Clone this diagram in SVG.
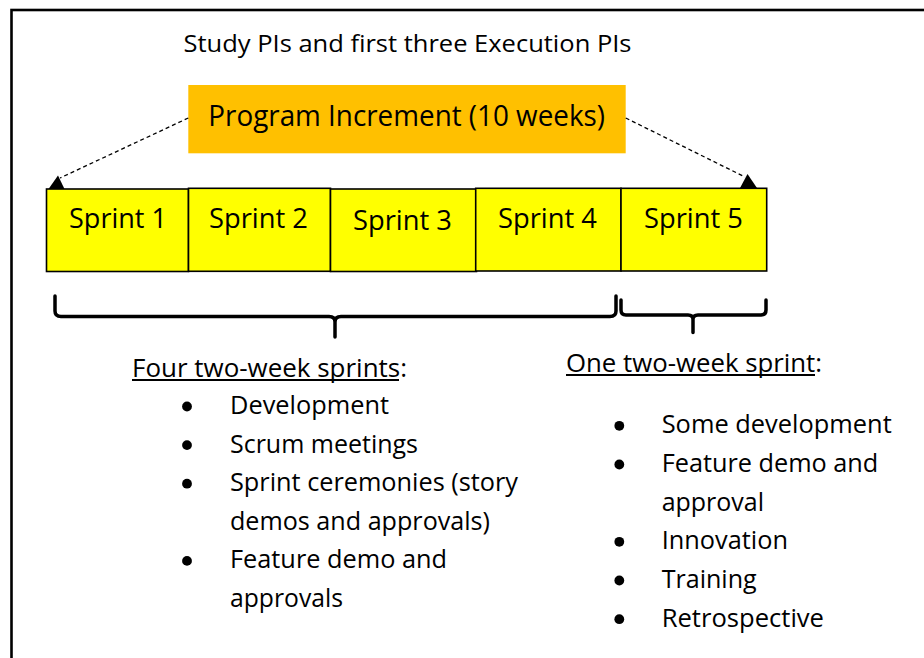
<svg xmlns="http://www.w3.org/2000/svg" width="924" height="658" viewBox="0 0 924 658">
  <style>
    text { font-family: "Open Sans", "Liberation Sans", sans-serif; fill: #000; }
    .title { font-size: 24px; }
    .pi { font-size: 29px; }
    .sprint rect { fill: #FFFF00; stroke: #000; stroke-width: 1.6; }
    .sprint text { font-size: 26.5px; }
    .body { font-size: 25px; }
    .brace { fill: none; stroke: #000; stroke-width: 3.5; stroke-linecap: round; stroke-linejoin: round; }
    .dash { fill: none; stroke: #000; stroke-width: 1.3; stroke-dasharray: 4 3; }
    .bullet { fill: #000; }
    .ul { stroke: #000; stroke-width: 1.8; }
  </style>

  <!-- outer frame (runs past the right and bottom edges) -->
  <rect x="11.5" y="10" width="930" height="670" fill="#fff" stroke="#000" stroke-width="2.6"/>

  <g id="title">
    <text class="title" x="183.5" y="52.3" textLength="448" lengthAdjust="spacingAndGlyphs">Study PIs and first three Execution PIs</text>
  </g>

  <g id="program-increment">
    <rect x="188.3" y="85" width="437.4" height="68.3" fill="#FFC000"/>
    <text class="pi" x="208.3" y="126" textLength="396.7" lengthAdjust="spacingAndGlyphs">Program Increment (10 weeks)</text>
  </g>

  <!-- dashed connectors from the PI box to both ends of the sprint row -->
  <g id="connectors">
    <line class="dash" x1="188.3" y1="118" x2="60" y2="178"/>
    <polygon points="58,175.5 48.5,189 64.5,189" fill="#000"/>
    <line class="dash" x1="625.7" y1="118" x2="745" y2="177"/>
    <polygon points="747.5,174 740,188 757,188" fill="#000"/>
  </g>

  <g id="sprint-1" class="sprint">
    <rect x="46.5" y="189" width="142" height="82.5"/>
    <text x="69" y="228" textLength="98" lengthAdjust="spacingAndGlyphs">Sprint 1</text>
  </g>
  <g id="sprint-2" class="sprint">
    <rect x="188.5" y="188.3" width="142" height="83"/>
    <text x="209" y="228" textLength="99" lengthAdjust="spacingAndGlyphs">Sprint 2</text>
  </g>
  <g id="sprint-3" class="sprint">
    <rect x="330.5" y="189" width="146" height="82.5"/>
    <text x="353" y="230" textLength="99" lengthAdjust="spacingAndGlyphs">Sprint 3</text>
  </g>
  <g id="sprint-4" class="sprint">
    <rect x="475.7" y="188.3" width="145.3" height="82.7"/>
    <text x="498" y="227.7" textLength="99" lengthAdjust="spacingAndGlyphs">Sprint 4</text>
  </g>
  <g id="sprint-5" class="sprint">
    <rect x="621" y="188.3" width="145.7" height="82.7"/>
    <text x="644" y="228" textLength="99" lengthAdjust="spacingAndGlyphs">Sprint 5</text>
  </g>

  <!-- braces grouping sprints 1-4 and sprint 5 -->
  <g id="brace-four">
    <path class="brace" d="M55,296 V311 Q55,316.5 61,316.5 H329 Q335,316.5 335,322 V337 M335,322 Q335,316.5 341,316.5 H610 Q616,316.5 616,311 V296"/>
  </g>
  <g id="brace-one">
    <path class="brace" d="M621,300 V310 Q621,315 626,315 H688 Q693,315 693,319.5 V332.5 M693,319.5 Q693,315 698,315 H761 Q766,315 766,310 V300"/>
  </g>

  <g id="list-four">
    <text class="body" x="132" y="376.7" textLength="275" lengthAdjust="spacingAndGlyphs">Four two-week sprints:</text>
    <line class="ul" x1="132" y1="380" x2="399" y2="380"/>
    <circle class="bullet" cx="187" cy="406.5" r="4.9"/>
    <text class="body" x="230" y="414" textLength="159" lengthAdjust="spacingAndGlyphs">Development</text>
    <circle class="bullet" cx="187" cy="445.1" r="4.9"/>
    <text class="body" x="230" y="452.6" textLength="188" lengthAdjust="spacingAndGlyphs">Scrum meetings</text>
    <circle class="bullet" cx="187" cy="483.7" r="4.9"/>
    <text class="body" x="230" y="491.2" textLength="288" lengthAdjust="spacingAndGlyphs">Sprint ceremonies (story</text>
    <text class="body" x="230" y="529.8" textLength="260" lengthAdjust="spacingAndGlyphs">demos and approvals)</text>
    <circle class="bullet" cx="187" cy="560.9" r="4.9"/>
    <text class="body" x="230" y="568.4" textLength="217" lengthAdjust="spacingAndGlyphs">Feature demo and</text>
    <text class="body" x="230" y="607" textLength="113" lengthAdjust="spacingAndGlyphs">approvals</text>
  </g>

  <g id="list-one">
    <text class="body" x="566" y="371.7" textLength="256" lengthAdjust="spacingAndGlyphs">One two-week sprint:</text>
    <line class="ul" x1="566" y1="375" x2="815" y2="375"/>
    <circle class="bullet" cx="619.3" cy="425.8" r="4.9"/>
    <text class="body" x="661.7" y="433.3" textLength="230" lengthAdjust="spacingAndGlyphs">Some development</text>
    <circle class="bullet" cx="619.3" cy="464.5" r="4.9"/>
    <text class="body" x="661.7" y="472" textLength="216.6" lengthAdjust="spacingAndGlyphs">Feature demo and</text>
    <text class="body" x="661.7" y="510.7" textLength="102.3" lengthAdjust="spacingAndGlyphs">approval</text>
    <circle class="bullet" cx="619.3" cy="541.8" r="4.9"/>
    <text class="body" x="661.7" y="549.3" textLength="126.3" lengthAdjust="spacingAndGlyphs">Innovation</text>
    <circle class="bullet" cx="619.3" cy="580.5" r="4.9"/>
    <text class="body" x="661.7" y="588" textLength="95" lengthAdjust="spacingAndGlyphs">Training</text>
    <circle class="bullet" cx="619.3" cy="619.2" r="4.9"/>
    <text class="body" x="661.7" y="626.7" textLength="162.3" lengthAdjust="spacingAndGlyphs">Retrospective</text>
  </g>
</svg>
